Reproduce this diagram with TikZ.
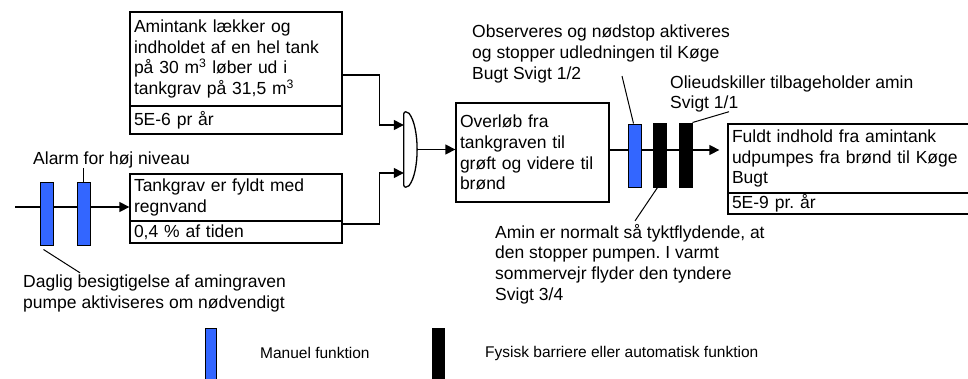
\documentclass[tikz,border=0pt]{standalone}
\usepackage{fontspec}
\setmainfont{Liberation Sans}
\usetikzlibrary{arrows.meta,calc}
\definecolor{manblue}{RGB}{51,102,255}
\frenchspacing
\tikzset{
  box/.style={draw, line width=1.3pt, inner xsep=4pt, inner ysep=0pt, align=left,
    font=\fontsize{17.5}{20.7}\selectfont},
  lbl/.style={inner sep=0pt, align=left, anchor=west, font=\fontsize{17.5}{20.7}\selectfont},
  legtxt/.style={inner sep=0pt, anchor=west, font=\fontsize{15.5}{18}\selectfont},
  bluebar/.style={draw, fill=manblue, line width=1pt, minimum width=13pt, minimum height=63pt, inner sep=0pt},
  blackbar/.style={draw, fill=black, line width=1pt, minimum width=13pt, minimum height=64pt, inner sep=0pt},
  conn/.style={line width=1.3pt},
  arr/.style={conn, -{Triangle[length=10pt,width=10pt]}},
  lead/.style={line width=1pt},
}
\begin{document}
\frenchspacing
\begin{tikzpicture}[x=1pt,y=-1pt]
\useasboundingbox (0,0) rectangle (968,378);

% boxes
\node[box, minimum width=212pt, text width=204pt, minimum height=94pt] (b1t) at (236,59)
  {Amintank lækker og\\indholdet af en hel tank\\på 30 m\textsuperscript{3} løber ud i\\tankgrav på 31,5 m\textsuperscript{3}};
\node[box, minimum width=212pt, text width=204pt, minimum height=28pt] (b1b) at (236,120) {5E-6 pr år};
\node[box, minimum width=212pt, text width=204pt, minimum height=47pt] (b2t) at (236,197.5)
  {Tankgrav er fyldt med\\regnvand};
\node[box, minimum width=212pt, text width=204pt, minimum height=22pt] (b2b) at (236,232) {0,4 \% af tiden};
\node[box, minimum width=153pt, text width=145pt, minimum height=99pt] (b3) at (532.5,152.5)
  {Overløb fra\\tankgraven til\\grøft og videre til\\brønd};
\node[box, minimum width=250pt, text width=242pt, minimum height=69pt] (b4t) at (853,158.5)
  {Fuldt indhold fra amintank\\udpumpes fra brønd til Køge\\Bugt};
\node[box, minimum width=250pt, text width=242pt, minimum height=21pt] (b4b) at (853,203.5) {5E-9 pr. år};

% gate
\node[minimum width=14pt, minimum height=75pt, inner sep=0pt] (gate) at (411,149.5) {};
\coordinate (g1) at ([yshift=24.5pt]gate.west);
\coordinate (g2) at ([yshift=-23.5pt]gate.west);

% connectors
\draw[arr] ([yshift=-16pt]b1t.east) -- ++(37,0) |- (g1);
\draw[arr] ([yshift=8pt]b2b.east) -- ++(37,0) |- (g2);
\draw[conn, fill=white, rounded corners=2pt] (gate.north west) -- ([xshift=4pt]gate.north west)
  .. controls ([xshift=16pt,yshift=-15pt]gate.north west) and ([xshift=16pt,yshift=15pt]gate.south west)
  .. ([xshift=4pt]gate.south west) -- (gate.south west) -- cycle;
\draw[arr] (gate.east) -- (gate.east -| b3.west);

\coordinate (s0) at (15,207);
\draw[arr] (s0) -- (s0 -| b2t.west);
\coordinate (s1) at ([yshift=2.5pt]b3.east);
\draw[arr, shorten >=8pt] (s1) -- (s1 -| b4t.west);

% bars
\node[bluebar] (L1) at (46.5,213.5) {};
\node[bluebar] (L2) at (83.5,213.5) {};
\node[bluebar] (B) at (634.5,155.5) {};
\node[blackbar] (K1) at (659.5,155) {};
\node[blackbar] (K2) at (685.5,155) {};

% labels
\node[lbl] (alarm) at (33,159.5) {Alarm for høj niveau};
\node[lbl] (daglig) at (23,293.5) {Daglig besigtigelse af amingraven\\pumpe aktiviseres om nødvendigt};
\node[lbl] (obs) at (472,54) {Observeres og nødstop aktiveres\\og stopper udledningen til Køge\\Bugt Svigt 1/2};
\node[lbl] (olie) at (670,94) {Olieudskiller tilbageholder amin\\Svigt 1/1};
\node[lbl] (amin) at (495,264) {Amin er normalt så tyktflydende, at\\den stopper pumpen. I varmt\\sommervejr flyder den tyndere\\Svigt 3/4};

% leaders
\draw[lead] (L2.north) -- (L2.north |- alarm.south);
\draw[lead] ([xshift=-3pt,yshift=-4pt]L1.south) -- ([xshift=57pt,yshift=2pt]daglig.north west);
\draw[lead] ([xshift=150pt,yshift=7pt]obs.south west) -- ([xshift=-1pt]B.north);
\draw[lead] ([xshift=59pt,yshift=1pt]olie.south west) -- (K2.north east);
\draw[lead] ([xshift=-2pt]K1.south) -- ([xshift=140pt,yshift=3pt]amin.north west);

% legend
\node[bluebar, minimum width=11pt, minimum height=60pt] (legB) at (210.5,358) {};
\node[legtxt] (legBt) at (260,353) {Manuel funktion};
\node[blackbar, minimum width=12pt, minimum height=60pt] (legK) at (438,358) {};
\node[legtxt] (legKt) at (485,353) {Fysisk barriere eller automatisk funktion};
\end{tikzpicture}
\end{document}
